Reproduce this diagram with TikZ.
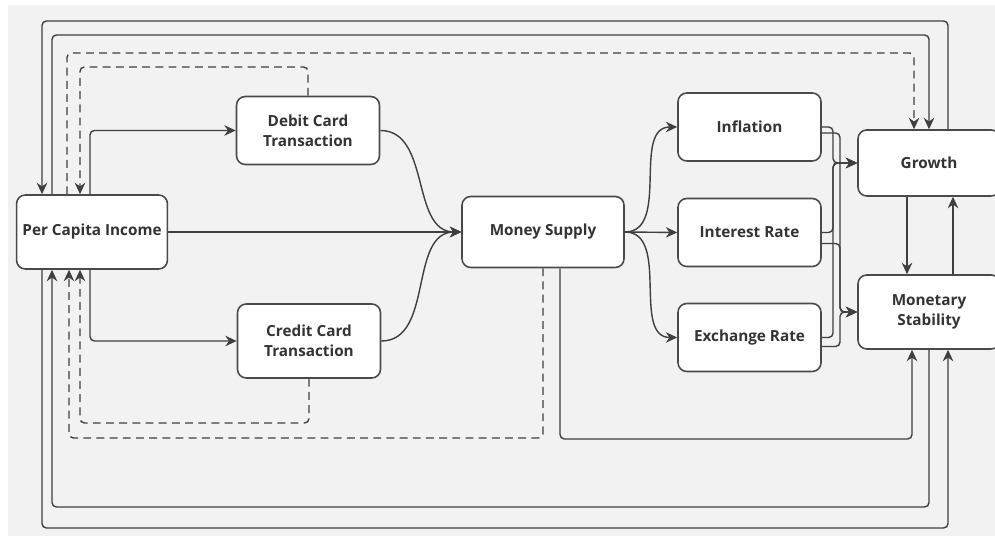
\documentclass[tikz,border=0pt]{standalone}
\usepackage{fontspec}
\setsansfont{Open Sans}
\usetikzlibrary{arrows.meta, positioning, calc}

\begin{document}
\begin{tikzpicture}[
    every node/.style={font=\sffamily},
]

% ---------------------------------------------------------------- colours
\definecolor{c1}{HTML}{F2F2F2}   % canvas
\definecolor{c2}{HTML}{3F3F3F}   % connectors
\definecolor{c3}{HTML}{4A4A4A}   % box outlines
\definecolor{textcolor}{HTML}{333333}

\tikzset{
    box/.style={rectangle, rounded corners=5pt, draw=c3, line width=0.9pt,
                fill=white, text=textcolor, align=center,
                minimum width=2.86cm, minimum height=1.36cm,
                font=\sffamily\bfseries\fontsize{8.7}{11.5}\selectfont},
    link/.style={draw=c2, line width=0.8pt, rounded corners=2.5pt,
                 -{Stealth[length=6.5pt, width=6pt]}},
    dlink/.style={link, dash pattern=on 4.5pt off 3pt},
}

% ================================================================
% GEOMETRY
%   income            x = 1.84            y = 6.08
%   card columns      x = 6.16
%   money supply      x = 10.86
%   rate column       x = 14.99, rows y = 8.18, 6.07, 3.97
%   outcome column    x = 18.58, rows y = 7.46, 4.48
%   loops above       y = 10.3, 10.02, 9.66, 9.38
%   loops below       y = 2.26, 1.96, 0.58, 0.16
% ================================================================

\useasboundingbox (0,0) rectangle (19.9,10.72);
\fill[c1] (0.16,0) rectangle (19.9,10.62);

% ---------------------------------------------------------------- boxes
\node[box, minimum width=2.96cm, minimum height=1.48cm] (pci) at (1.84, 6.08)
    {Per Capita Income};
\node[box] (dct) at (6.16, 8.11) {Debit Card\\Transaction};
\node[box, minimum height=1.48cm] (cct) at (6.18, 3.9) {Credit Card\\Transaction};
\node[box, minimum width=3.24cm, minimum height=1.42cm] (msp) at (10.86, 6.08)
    {Money Supply};
\node[box] (inf) at (14.99, 8.18) {Inflation};
\node[box] (irt) at (14.99, 6.07) {Interest Rate};
\node[box] (exr) at (14.99, 3.97) {Exchange Rate};
\node[box, minimum width=2.84cm, minimum height=1.32cm] (grw) at (18.58, 7.46)
    {Growth};
\node[box, minimum width=2.84cm, minimum height=1.48cm] (mst) at (18.58, 4.48)
    {Monetary\\Stability};

% ---------------------------------------------------------------- ports
\coordinate (pt1) at ([xshift=-1.0cm]pci.north);
\coordinate (pt2) at ([xshift=-0.8cm]pci.north);
\coordinate (pt3) at ([xshift=-0.5cm]pci.north);
\coordinate (pt4) at ([xshift=-0.24cm]pci.north);
\coordinate (pt5) at ([xshift=-0.04cm]pci.north);
\coordinate (pb1) at ([xshift=-1.0cm]pci.south);
\coordinate (pb2) at ([xshift=-0.8cm]pci.south);
\coordinate (pb3) at ([xshift=-0.46cm]pci.south);
\coordinate (pb4) at ([xshift=-0.24cm]pci.south);
\coordinate (pb5) at ([xshift=-0.04cm]pci.south);
\coordinate (gt1) at ([xshift=-0.3cm]grw.north);
\coordinate (gt2) at (grw.north);
\coordinate (gt3) at ([xshift=0.38cm]grw.north);
\coordinate (mb1) at ([xshift=-0.34cm]mst.south);
\coordinate (mb2) at (mst.south);
\coordinate (mb3) at ([xshift=0.38cm]mst.south);
\coordinate (sb1) at (msp.south);
\coordinate (sb2) at ([xshift=0.34cm]msp.south);
\coordinate (laneA) at (16.66, 0);
\coordinate (laneB) at (16.8, 0);

% ---------------------------------------------------------------- income out
\draw[link] (pt5) |- (dct.west);
\draw[link] (pb5) |- (cct.west);
\draw[link] (pci.east) -- (msp.west);
\draw[link] (dct.east) to[out=0, in=180] (msp.west);
\draw[link] (cct.east) to[out=0, in=180] (msp.west);

% ---------------------------------------------------------------- money supply out
\draw[link] (msp.east) to[out=0, in=180] (inf.west);
\draw[link] (msp.east) -- (irt.west);
\draw[link] (msp.east) to[out=0, in=180] (exr.west);

% ---------------------------------------------------------------- rates to outcomes
% source / drop / target / lane
\foreach \s/\dy/\t/\l in {%
    inf/0/grw/laneA, inf/-0.12/mst/laneB,
    irt/0/grw/laneA, irt/-0.22/mst/laneB,
    exr/0/grw/laneA, exr/-0.18/mst/laneB%
} {
    \draw[link] ([yshift=\dy cm]\s.east) -| (\l |- \t.west) -- (\t.west);
}

\draw[link] ([xshift=-0.44cm]grw.south) -- ([xshift=-0.44cm]mst.north);
\draw[link] ([xshift=0.48cm]mst.north) -- ([xshift=0.48cm]grw.south);

% ---------------------------------------------------------------- loops above
\draw[link] (gt3) |- (pt1 |- 0,10.3) -- (pt1);
\draw[link] (pt2) |- (gt2 |- 0,10.02) -- (gt2);
\draw[dlink] (pt3) |- (gt1 |- 0,9.66) -- (gt1);
\draw[dlink] (dct.north) |- (pt4 |- 0,9.38) -- (pt4);

% ---------------------------------------------------------------- loops below
\draw[dlink] (cct.south) |- (pb4 |- 0,2.26) -- (pb4);
\draw[dlink] (sb1) |- (pb3 |- 0,1.96) -- (pb3);
\draw[link] (sb2) |- (mb1 |- 0,1.94) -- (mb1);
\draw[link] (mb2) |- (pb2 |- 0,0.58) -- (pb2);
\draw[link] (pb1) |- (mb3 |- 0,0.16) -- (mb3);

\end{tikzpicture}
\end{document}
